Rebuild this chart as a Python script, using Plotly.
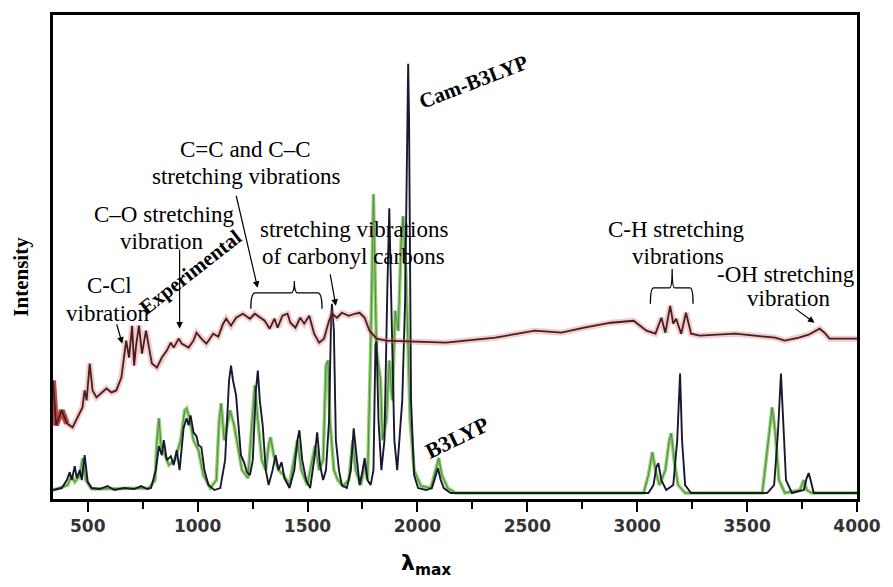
import plotly.graph_objects as go

# ---------------- data ----------------
# Experimental spectrum (wavenumber, intensity a.u.)
exp_x = [342, 356, 382, 405, 431, 454, 476, 486, 495, 509, 522, 540, 563, 585, 608, 630, 653, 666, 675, 688,
         702, 711, 720, 733, 747, 765, 779, 792, 815, 837, 860, 878, 891, 914, 927, 959, 981, 995, 1017, 1040,
         1071, 1094, 1116, 1130, 1152, 1175, 1206, 1238, 1260, 1283, 1305, 1328, 1350, 1364, 1386, 1409, 1422,
         1445, 1467, 1485, 1508, 1530, 1553, 1575, 1598, 1611, 1634, 1656, 1688, 1715, 1737, 1760, 1782, 1814,
         1859, 2129, 2232, 2354, 2534, 2655, 2759, 2880, 2984, 3042, 3083, 3110, 3128, 3150, 3164, 3177, 3200,
         3222, 3245, 3285, 3447, 3627, 3672, 3735, 3780, 3830, 3852, 3875, 4000]
exp_y = [119, 74, 89, 76, 72, 82, 92, 109, 99, 136, 109, 102, 107, 111, 107, 109, 122, 146, 159, 142,
         174, 134, 154, 174, 146, 169, 152, 136, 132, 142, 149, 157, 152, 161, 156, 152, 159, 167, 161, 156,
         166, 163, 176, 181, 174, 182, 186, 181, 186, 182, 179, 171, 181, 172, 184, 186, 177,
         172, 182, 176, 184, 166, 157, 161, 179, 186, 182, 187, 184, 186, 187, 182, 169, 161,
         159, 157, 159, 162, 169, 167, 172, 177, 179, 169, 166, 182, 167, 194, 176, 181, 166,
         187, 166, 164, 166, 162, 159, 162, 165, 171, 167, 161, 161]

# Calculated spectrum, Cam-B3LYP
cam_x = [342, 382, 405, 418, 427, 441, 450, 464, 473, 486, 500, 518, 554, 590, 621, 666, 711, 743, 770, 788,
         810, 824, 837, 846, 860, 878, 891, 905, 918, 936, 950, 959, 968, 981, 995, 1004, 1017, 1031, 1049,
         1076, 1103, 1125, 1143, 1152, 1161, 1175, 1184, 1197, 1211, 1224, 1238, 1251, 1265, 1274, 1283, 1296,
         1310, 1323, 1341, 1355, 1368, 1382, 1395, 1418, 1440, 1454, 1463, 1476, 1494, 1512, 1530, 1544, 1557,
         1571, 1584, 1598, 1607, 1611, 1620, 1629, 1643, 1656, 1679, 1697, 1710, 1724, 1737, 1751, 1760, 1773,
         1787, 1800, 1809, 1814, 1823, 1836, 1850, 1863, 1872, 1881, 1895, 1908, 1922, 1931, 1944, 1953, 1958,
         1962, 1971, 1985, 2003, 2039, 2066, 2084, 2093, 2106, 2120, 2151, 3051, 3074, 3087, 3096, 3110, 3132,
         3164, 3182, 3195, 3204, 3218, 3245, 3591, 3623, 3641, 3654, 3663, 3677, 3704, 3758, 3771, 3780, 3789,
         3803, 4000]
cam_y = [9, 11, 19, 27, 19, 33, 21, 29, 19, 44, 17, 11, 10, 13, 9, 11, 10, 13, 10, 11,
         29, 53, 44, 59, 39, 43, 34, 49, 29, 71, 81, 74, 84, 67, 63, 54, 52, 29, 14,
         9, 11, 39, 119, 134, 119, 104, 79, 44, 37, 27, 24, 39, 109, 129, 99, 74,
         29, 14, 29, 44, 29, 37, 21, 11, 29, 59, 69, 39, 19, 11, 39, 67, 34,
         19, 29, 79, 179, 196, 169, 59, 29, 14, 11, 29, 71, 39, 14, 29, 41, 19,
         14, 29, 154, 159, 79, 29, 59, 209, 292, 199, 59, 29, 69, 99, 199, 379, 437,
         379, 99, 24, 11, 9, 11, 24, 31, 19, 11, 6, 6, 14, 32, 36, 19, 9,
         14, 59, 126, 59, 14, 6, 6, 14, 69, 126, 79, 19, 6, 9, 21, 26, 19,
         6, 6]

# Calculated spectrum, B3LYP
b3_x = [342, 409, 427, 441, 464, 477, 491, 518, 779, 806, 815, 824, 833, 851, 869, 896, 923, 941, 950, 963,
        981, 1004, 1026, 1058, 1085, 1098, 1107, 1121, 1148, 1166, 1179, 1202, 1229, 1247, 1260, 1274, 1292,
        1310, 1323, 1332, 1346, 1368, 1391, 1418, 1445, 1454, 1472, 1499, 1526, 1535, 1553, 1571, 1584, 1593,
        1602, 1620, 1638, 1661, 1688, 1706, 1719, 1742, 1760, 1773, 1787, 1800, 1814, 1832, 1841, 1859, 1872,
        1886, 1899, 1913, 1926, 1935, 1949, 1967, 1985, 2016, 2061, 2084, 2097, 2111, 2138, 2174, 3029, 3051,
        3069, 3083, 3101, 3128, 3146, 3155, 3168, 3186, 3218, 3569, 3596, 3614, 3627, 3645, 3672, 3740, 3758,
        3771, 3794, 4000]
b3_y = [9, 14, 24, 17, 23, 41, 19, 10, 11, 19, 59, 81, 54, 44, 34, 39, 59, 89, 91, 81,
        59, 49, 24, 11, 19, 79, 96, 59, 89, 74, 59, 29, 21, 79, 114, 79, 39,
        29, 54, 62, 44, 29, 24, 14, 49, 59, 29, 14, 44, 54, 29, 39, 134, 139,
        79, 29, 19, 13, 19, 59, 29, 14, 34, 19, 149, 306, 149, 119, 59, 79, 139,
        99, 189, 169, 259, 284, 219, 79, 29, 13, 11, 29, 41, 24, 11, 6, 6, 24,
        47, 29, 14, 29, 59, 66, 39, 14, 6, 6, 59, 92, 69, 19, 6, 9, 19,
        9, 6, 6]

x_ticks = [500, 1000, 1500, 2000, 2500, 3000, 3500, 4000]
x_range = [342, 4000]
y_range = [0, 486]

# ---------------- figure ----------------
fig = go.Figure()

# B3LYP (green)
fig.add_trace(go.Scatter(x=b3_x, y=b3_y, mode="lines",
                         line=dict(color="rgba(115,205,60,0.85)", width=3.5), hoverinfo="skip"))
fig.add_trace(go.Scatter(x=b3_x, y=b3_y, mode="lines",
                         line=dict(color="#5d7a72", width=1.0), hoverinfo="skip"))
# Cam-B3LYP (dark)
fig.add_trace(go.Scatter(x=cam_x, y=cam_y, mode="lines",
                         line=dict(color="#181830", width=1.9), hoverinfo="skip"))
# Experimental: halo + line
fig.add_trace(go.Scatter(x=exp_x, y=exp_y, mode="lines",
                         line=dict(color="rgba(215,110,110,0.35)", width=6), hoverinfo="skip"))
fig.add_trace(go.Scatter(x=exp_x[:4], y=exp_y[:4], mode="lines",
                         line=dict(color="rgba(170,20,20,0.7)", width=6), hoverinfo="skip"))
fig.add_trace(go.Scatter(x=exp_x, y=exp_y, mode="lines",
                         line=dict(color="#4a1d1d", width=1.8), hoverinfo="skip"))

serif = "Liberation Serif, 'Times New Roman', Times, serif"
ann_font = dict(family=serif, size=23, color="black")

annotations = []
def label(text, x, y, **kw):
    d = dict(text=text, x=x, y=y, xref="x", yref="y", showarrow=False,
             font=ann_font, xanchor="center", yanchor="middle", align="center")
    d.update(kw)
    annotations.append(d)

def arrow(x0, y0, x1, y1):
    annotations.append(dict(x=x1, y=y1, ax=x0, ay=y0, xref="x", yref="y",
                            axref="x", ayref="y", text="", showarrow=True,
                            arrowhead=2, arrowsize=1.1, arrowwidth=1.2, arrowcolor="black"))

label("C=C and C\u2013C", 1220, 351)
label("stretching vibrations", 1220, 324)
arrow(1174, 306, 1273, 212)
label("C\u2013O stretching", 846, 286)
label("vibration", 837, 259)
arrow(918, 252, 918, 171)
label("C-Cl", 598, 214)
label("vibration", 594, 186)
arrow(630, 177, 657, 156)
label("stretching vibrations", 1710, 271)
label("of carbonyl carbons", 1710, 244)
arrow(1602, 227, 1629, 194)
label("C-H stretching", 3177, 271)
label("vibrations", 3186, 244)
label("-OH stretching", 3676, 225)
label("vibration", 3690, 201)
arrow(3713, 192, 3807, 177)

bold_font = dict(family=serif, size=21, color="black")
label("<b>Experimental</b>", 968, 228, textangle=-38, font=bold_font)
label("<b>Cam-B3LYP</b>", 2254, 419, textangle=-21, font=bold_font)
label("<b>B3LYP</b>", 2182, 62, textangle=-26, font=dict(family=serif, size=22, color="black"))

# axis titles as paper annotations
annotations.append(dict(text="<b>Intensity</b>", x=-0.040, y=0.459, xref="paper", yref="paper",
                        showarrow=False, textangle=-90, xanchor="center", yanchor="middle",
                        font=dict(family=serif, size=21, color="black")))
annotations.append(dict(text="<b>\u03bb</b><sub><b>max</b></sub>", x=0.464, y=-0.135, xref="paper",
                        yref="paper", showarrow=False, xanchor="center", yanchor="middle",
                        font=dict(family="DejaVu Sans", size=22, color="black")))

shapes = [
    dict(type="path", xref="x", yref="y",
         path="M 1242,191 Q 1242,207 1262,207 L 1425,207 Q 1440,207 1440,219 "
              "Q 1440,207 1455,207 L 1546,207 Q 1566,207 1566,191",
         line=dict(color="black", width=1.3)),
    dict(type="path", xref="x", yref="y",
         path="M 3060,196 Q 3060,212 3075,212 L 3147,212 Q 3159,212 3159,231 "
              "Q 3159,212 3171,212 L 3240,212 Q 3254,212 3254,196",
         line=dict(color="black", width=1.3)),
]

fig.update_layout(
    width=893, height=587,
    margin=dict(l=53, r=27, t=13, b=88),
    paper_bgcolor="white", plot_bgcolor="white",
    showlegend=False,
    annotations=annotations,
    shapes=shapes,
    xaxis=dict(range=x_range, tickvals=x_ticks, ticks="outside", ticklen=10, tickwidth=2,
               tickcolor="black", showline=True, linecolor="black", linewidth=2.5, mirror=True,
               showgrid=False, zeroline=False,
               minor=dict(dtick=250, tick0=250, ticks="outside", ticklen=7, tickwidth=2, tickcolor="black"),
               tickfont=dict(family="DejaVu Sans", size=17, color="#333333", weight="bold")),
    yaxis=dict(range=y_range, showticklabels=False, ticks="", showline=True, linecolor="black",
               linewidth=2.5, mirror=True, showgrid=False, zeroline=False),
)

# remove the browser's default 8px page margin so the figure sits at the window's corner
fig.write_html("out.html", config={"displayModeBar": False},
               post_script="document.body.style.margin='0px';")
